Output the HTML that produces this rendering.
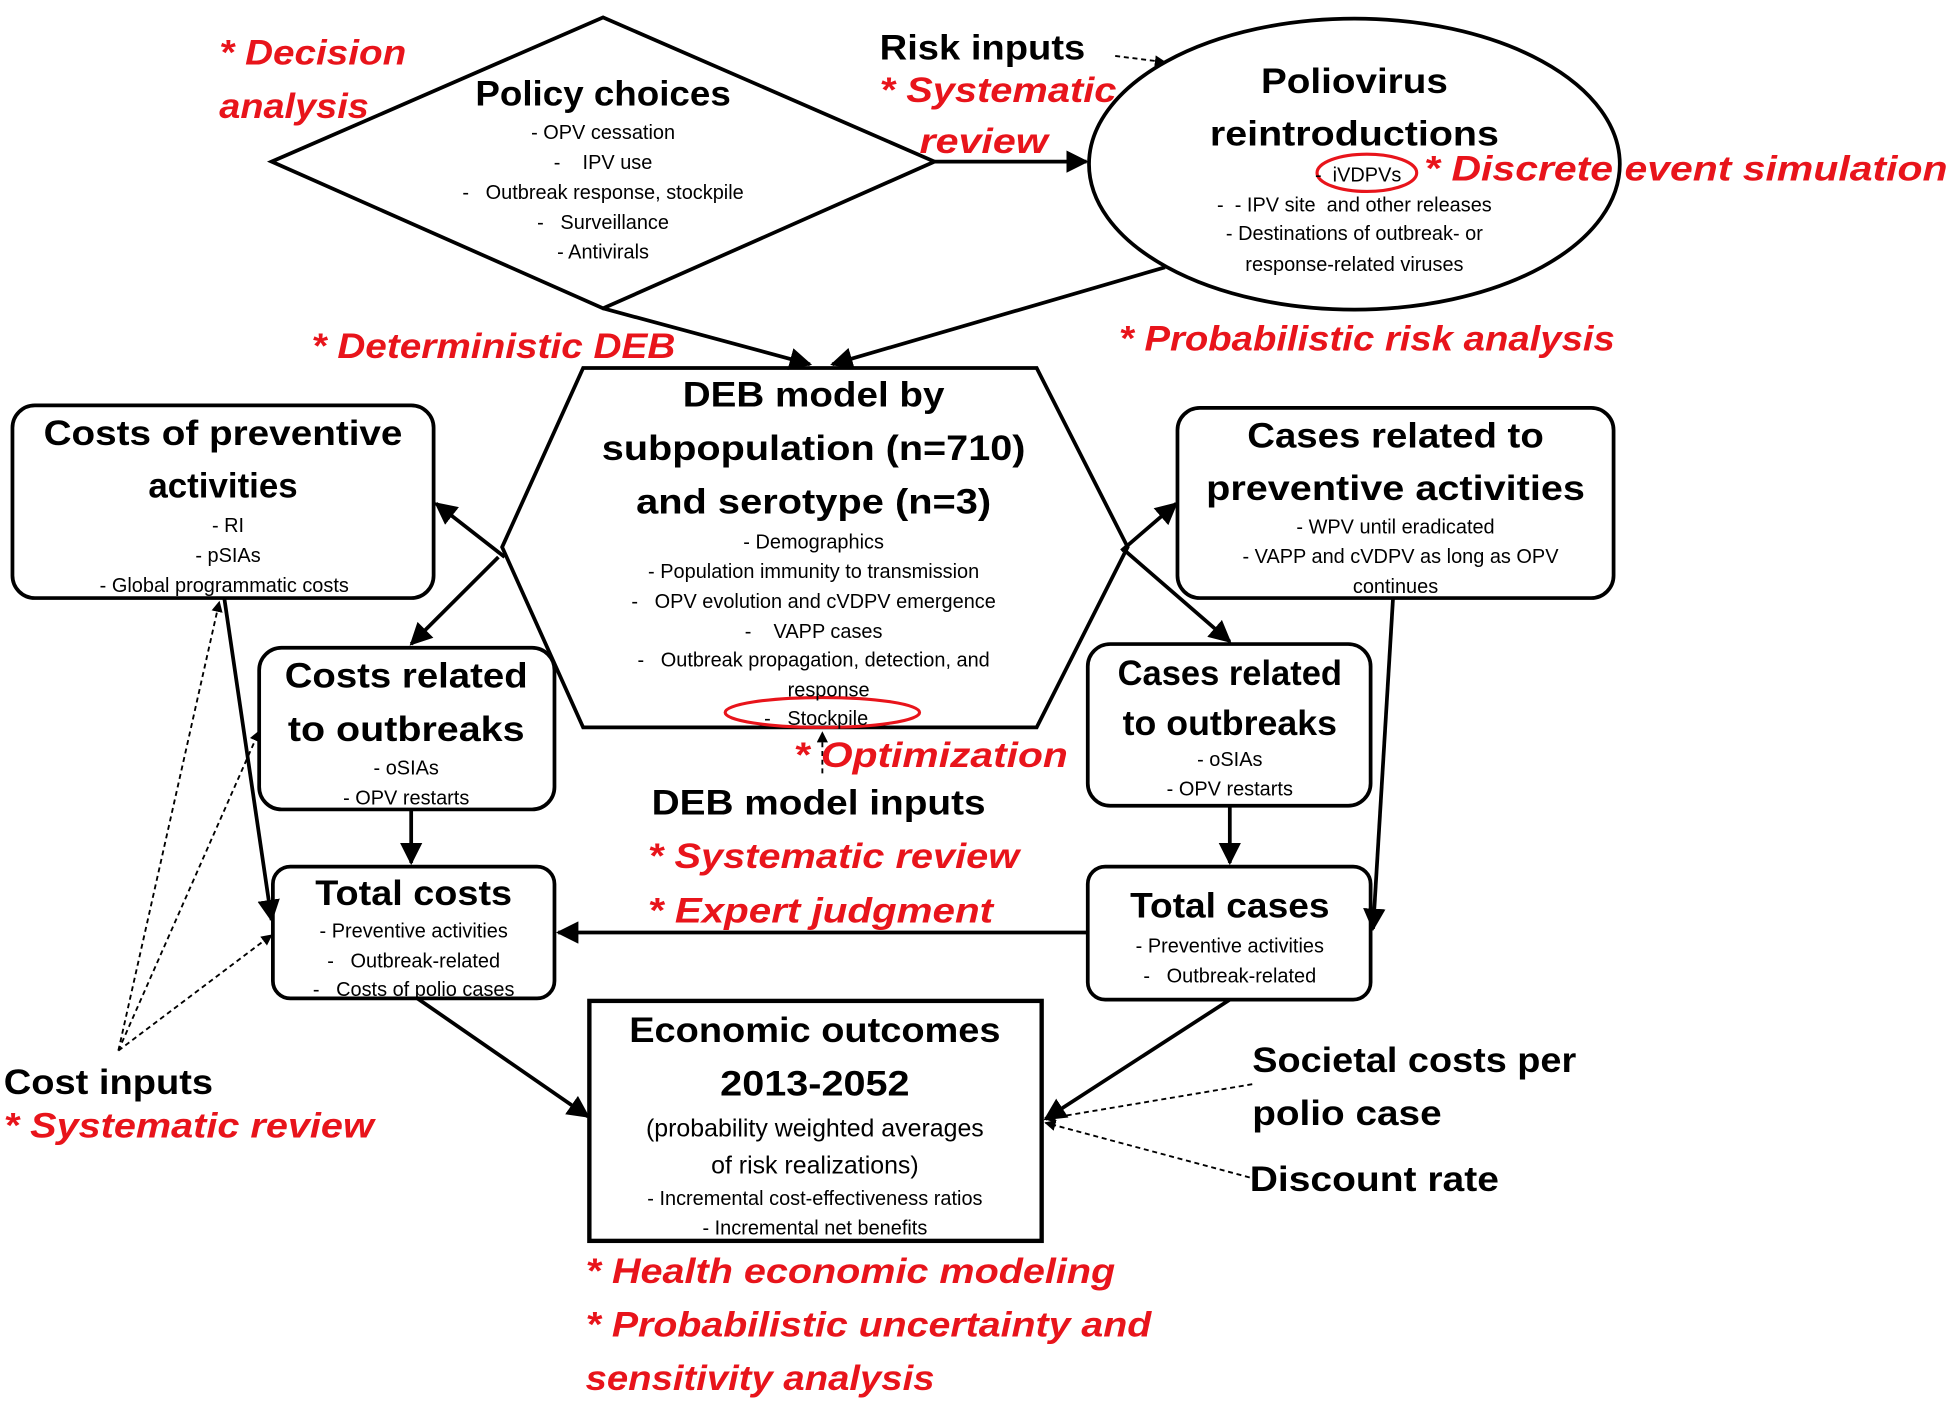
<!DOCTYPE html>
<html><head><meta charset="utf-8"><style>
html,body{margin:0;padding:0;background:#fff}
svg{display:block}
text{font-family:"Liberation Sans",sans-serif}
.h{font-weight:bold;font-size:28px;fill:#000}
.s{font-size:16px;fill:#000}
.r{font-weight:bold;font-style:italic;font-size:28px;fill:#e8141b}
</style></head><body>
<svg width="1950" height="1405" viewBox="0 0 1565 1130" preserveAspectRatio="none" xmlns="http://www.w3.org/2000/svg">
<defs>
<marker id="a" viewBox="0 0 10 10" refX="9" refY="5" markerWidth="6" markerHeight="6" orient="auto"><path d="M0,0 L10,5 L0,10 z" fill="#000"/></marker>
</defs>
<g fill="none" stroke="#000" stroke-width="3">
<polygon points="218,130 484,14 750,130 484,248"/>
<ellipse cx="1087" cy="132" rx="213" ry="117"/>
<polygon points="403,440 468,296 832,296 905,440 832,585 468,585"/>
<rect x="10" y="326" width="338" height="155" rx="18"/>
<rect x="208" y="521" width="237" height="130" rx="18"/>
<rect x="219" y="697" width="226" height="106" rx="14"/>
<rect x="945" y="328" width="350" height="153" rx="18"/>
<rect x="873" y="518" width="227" height="130" rx="18"/>
<rect x="873" y="697" width="227" height="107" rx="14"/>
<rect x="473" y="805" width="363" height="193" stroke-width="3.5"/>
</g>
<g fill="none" stroke="#e8141b" stroke-width="2.5">
<ellipse cx="1097" cy="139" rx="40" ry="15"/>
<ellipse cx="660" cy="573" rx="78" ry="12"/>
</g>
<g stroke="#000" stroke-width="3" fill="none" marker-end="url(#a)">
<line x1="750" y1="130" x2="872" y2="130"/>
<line x1="484" y1="248" x2="650" y2="293"/>
<line x1="935" y1="215" x2="668" y2="293"/>
<line x1="405" y1="448" x2="350" y2="405"/>
<line x1="400" y1="448" x2="330" y2="518"/>
<line x1="900" y1="443" x2="944" y2="405"/>
<line x1="903" y1="443" x2="987" y2="516"/>
<line x1="330" y1="651" x2="330" y2="694"/>
<line x1="180" y1="481" x2="218" y2="740"/>
<line x1="1118" y1="481" x2="1102" y2="747"/>
<line x1="987" y1="648" x2="987" y2="694"/>
<line x1="873" y1="750" x2="448" y2="750"/>
<line x1="335" y1="803" x2="472" y2="898"/>
<line x1="987" y1="804" x2="839" y2="900"/>
</g>
<g stroke="#000" stroke-width="1.5" fill="none" stroke-dasharray="4,3" marker-end="url(#a)">
<line x1="895" y1="45" x2="935" y2="50"/>
<line x1="95" y1="845" x2="176" y2="484"/>
<line x1="95" y1="845" x2="208" y2="588"/>
<line x1="95" y1="845" x2="218" y2="752"/>
<line x1="1005" y1="872" x2="839" y2="900"/>
<line x1="1003" y1="947" x2="839" y2="903"/>
<line x1="660" y1="622" x2="660" y2="589"/>
</g>
<g text-anchor="middle">
<text class="h" x="484" y="85" textLength="205" lengthAdjust="spacingAndGlyphs">Policy choices</text>
<text class="s" x="484" y="112">- OPV cessation</text>
<text class="s" x="484" y="136">-&#160;&#160;&#160;&#160;IPV use</text>
<text class="s" x="484" y="160">-&#160;&#160;&#160;Outbreak response, stockpile</text>
<text class="s" x="484" y="184">-&#160;&#160;&#160;Surveillance</text>
<text class="s" x="484" y="208">- Antivirals</text>
<text class="h" x="1087" y="75" textLength="150" lengthAdjust="spacingAndGlyphs">Poliovirus</text>
<text class="h" x="1087" y="117" textLength="232" lengthAdjust="spacingAndGlyphs">reintroductions</text>
<text class="s" x="1090" y="146">-&#160;&#160;iVDPVs</text>
<text class="s" x="1087" y="170">-&#160;&#160;- IPV site&#160;&#160;and other releases</text>
<text class="s" x="1087" y="193">- Destinations of outbreak- or</text>
<text class="s" x="1087" y="218">response-related viruses</text>
<text class="h" x="653" y="327" textLength="210" lengthAdjust="spacingAndGlyphs">DEB model by</text>
<text class="h" x="653" y="370" textLength="340" lengthAdjust="spacingAndGlyphs">subpopulation (n=710)</text>
<text class="h" x="653" y="413" textLength="285" lengthAdjust="spacingAndGlyphs">and serotype (n=3)</text>
<text class="s" x="653" y="441">- Demographics</text>
<text class="s" x="653" y="465">- Population immunity to transmission</text>
<text class="s" x="653" y="489">-&#160;&#160;&#160;OPV evolution and cVDPV emergence</text>
<text class="s" x="653" y="513">-&#160;&#160;&#160;&#160;VAPP cases</text>
<text class="s" x="653" y="536">-&#160;&#160;&#160;Outbreak propagation, detection, and</text>
<text class="s" x="665" y="560">response</text>
<text class="s" x="655" y="583">-&#160;&#160;&#160;Stockpile</text>
<text class="h" x="179" y="358" textLength="288" lengthAdjust="spacingAndGlyphs">Costs of preventive</text>
<text class="h" x="179" y="400">activities</text>
<text class="s" x="183" y="428">- RI</text>
<text class="s" x="183" y="452">- pSIAs</text>
<text class="s" x="180" y="476">- Global programmatic costs</text>
<text class="h" x="326" y="553" textLength="195" lengthAdjust="spacingAndGlyphs">Costs related</text>
<text class="h" x="326" y="596" textLength="190" lengthAdjust="spacingAndGlyphs">to outbreaks</text>
<text class="s" x="326" y="623">- oSIAs</text>
<text class="s" x="326" y="647">- OPV restarts</text>
<text class="h" x="332" y="728" textLength="158" lengthAdjust="spacingAndGlyphs">Total costs</text>
<text class="s" x="332" y="754">- Preventive activities</text>
<text class="s" x="332" y="778">-&#160;&#160;&#160;Outbreak-related</text>
<text class="s" x="332" y="801">-&#160;&#160;&#160;Costs of polio cases</text>
<text class="h" x="1120" y="360" textLength="238" lengthAdjust="spacingAndGlyphs">Cases related to</text>
<text class="h" x="1120" y="402" textLength="304" lengthAdjust="spacingAndGlyphs">preventive activities</text>
<text class="s" x="1120" y="429">- WPV until eradicated</text>
<text class="s" x="1124" y="453">- VAPP and cVDPV as long as OPV</text>
<text class="s" x="1120" y="477">continues</text>
<text class="h" x="987" y="551" textLength="180" lengthAdjust="spacingAndGlyphs">Cases related</text>
<text class="h" x="987" y="591" textLength="172" lengthAdjust="spacingAndGlyphs">to outbreaks</text>
<text class="s" x="987" y="616">- oSIAs</text>
<text class="s" x="987" y="640">- OPV restarts</text>
<text class="h" x="987" y="738" textLength="160" lengthAdjust="spacingAndGlyphs">Total cases</text>
<text class="s" x="987" y="766">- Preventive activities</text>
<text class="s" x="987" y="790">-&#160;&#160;&#160;Outbreak-related</text>
<text class="h" x="654" y="838" textLength="298" lengthAdjust="spacingAndGlyphs">Economic outcomes</text>
<text class="h" x="654" y="881" textLength="152" lengthAdjust="spacingAndGlyphs">2013-2052</text>
<text x="654" y="914" style="font-size:20px">(probability weighted averages</text>
<text x="654" y="944" style="font-size:20px">of risk realizations)</text>
<text class="s" x="654" y="969">- Incremental cost-effectiveness ratios</text>
<text class="s" x="654" y="993">- Incremental net benefits</text>
</g>
<text class="h" x="706" y="48" textLength="165" lengthAdjust="spacingAndGlyphs">Risk inputs</text>
<text class="h" x="523" y="655" textLength="268" lengthAdjust="spacingAndGlyphs">DEB model inputs</text>
<text class="h" x="3" y="880" textLength="168" lengthAdjust="spacingAndGlyphs">Cost inputs</text>
<text class="h" x="1005" y="862" textLength="260" lengthAdjust="spacingAndGlyphs">Societal costs per</text>
<text class="h" x="1005" y="905" textLength="152" lengthAdjust="spacingAndGlyphs">polio case</text>
<text class="h" x="1003" y="958" textLength="200" lengthAdjust="spacingAndGlyphs">Discount rate</text>
<text class="r" x="176" y="52" textLength="150" lengthAdjust="spacingAndGlyphs">* Decision</text>
<text class="r" x="176" y="95" textLength="120" lengthAdjust="spacingAndGlyphs">analysis</text>
<text class="r" x="706" y="82" textLength="190" lengthAdjust="spacingAndGlyphs">* Systematic</text>
<text class="r" x="738" y="123" textLength="103" lengthAdjust="spacingAndGlyphs">review</text>
<text class="r" x="1143" y="145" textLength="420" lengthAdjust="spacingAndGlyphs">* Discrete  event  simulation</text>
<text class="r" x="250" y="288" textLength="292" lengthAdjust="spacingAndGlyphs">* Deterministic DEB</text>
<text class="r" x="898" y="282" textLength="398" lengthAdjust="spacingAndGlyphs">* Probabilistic risk analysis</text>
<text class="r" x="637" y="617" textLength="220" lengthAdjust="spacingAndGlyphs">* Optimization</text>
<text class="r" x="520" y="698" textLength="298" lengthAdjust="spacingAndGlyphs">* Systematic review</text>
<text class="r" x="520" y="742" textLength="277" lengthAdjust="spacingAndGlyphs">* Expert judgment</text>
<text class="r" x="3" y="915" textLength="297" lengthAdjust="spacingAndGlyphs">* Systematic review</text>
<text class="r" x="470" y="1032" textLength="425" lengthAdjust="spacingAndGlyphs">* Health economic modeling</text>
<text class="r" x="470" y="1075" textLength="454" lengthAdjust="spacingAndGlyphs">* Probabilistic uncertainty and</text>
<text class="r" x="470" y="1118" textLength="280" lengthAdjust="spacingAndGlyphs">sensitivity analysis</text>
</svg>
</body></html>
